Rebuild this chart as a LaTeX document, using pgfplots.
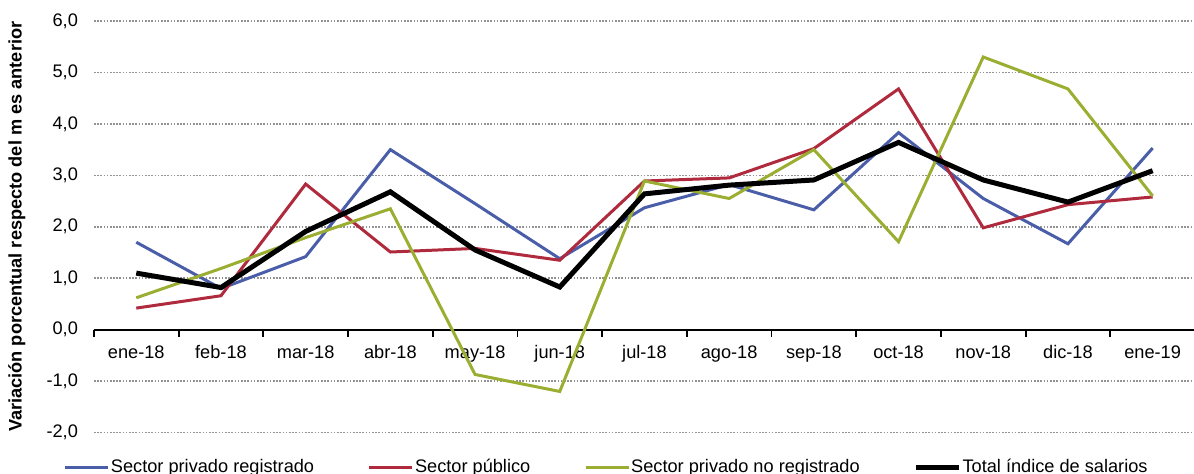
\documentclass[border=0pt]{standalone}
\usepackage{pgfplots}
\pgfplotsset{compat=1.18}
\usepackage{fontspec}
\setmainfont{Liberation Sans}
\definecolor{cblue}{HTML}{4A5DA8}
\definecolor{cred}{HTML}{AE2A3C}
\definecolor{cgreen}{HTML}{9BAE32}
\newcommand{\fs}{\fontsize{9.1}{11}\selectfont}
\begin{document}
\begin{tikzpicture}
\begin{axis}[
 scale only axis, width=551pt, height=206pt,
 xmin=-0.5, xmax=12.5, ymin=-2, ymax=6,
 axis x line=middle, axis y line=left,
 axis line style={-},
 y axis line style={draw=none},
 x axis line style={line width=0.9pt, black},
 hide obscured x ticks=false,
 hide obscured y ticks=false,
 xtick={-0.5,0.5,...,12.5},
 x tick label as interval,
 xticklabels={ene-18,feb-18,mar-18,abr-18,may-18,jun-18,jul-18,ago-18,sep-18,oct-18,nov-18,dic-18,ene-19},
 xtick align=outside,
 major tick length=3.5pt,
 xtick style={draw=black, line width=0.9pt},
 ytick={-2,-1,...,6},
 ytick align=inside,
 ytick style={draw=none},
 ymajorgrids,
 grid style={gray!85, line width=0.8pt, dash pattern=on 0.8pt off 0.8pt},
 tick label style={font=\fs},
 xticklabel style={yshift=-1pt},
 yticklabel style={xshift=-4.5pt, /pgf/number format/.cd, fixed, fixed zerofill, precision=1, use comma, assume math mode=true},
 every axis y label/.style={at={(axis description cs:-0.0699,0.5)}, rotate=90, anchor=center, font=\fs\bfseries},
 ylabel={Variación porcentual respecto del m es anterior},
 legend columns=4,
 legend cell align=left,
 legend style={draw=none, fill=none, inner sep=0pt, at={(axis description cs:-0.0277,-0.0840)}, anchor=west, nodes={inner xsep=0.6pt, inner ysep=1pt, font=\fs}, /tikz/every even column/.append style={column sep=26.3pt}},
 legend image code/.code={\draw[#1] (0pt,0pt) -- (21.5pt,0pt);},
]
\addplot[cblue, line width=1.5pt] coordinates {(0,1.70) (1,0.80) (2,1.42) (3,3.50) (4,2.45) (5,1.38) (6,2.37) (7,2.82) (8,2.33) (9,3.83) (10,2.55) (11,1.67) (12,3.53)};
\addlegendentry{Sector privado registrado}
\addplot[cred, line width=1.5pt] coordinates {(0,0.42) (1,0.66) (2,2.83) (3,1.51) (4,1.58) (5,1.35) (6,2.89) (7,2.95) (8,3.52) (9,4.68) (10,1.98) (11,2.43) (12,2.58)};
\addlegendentry{Sector público}
\addplot[cgreen, line width=1.5pt] coordinates {(0,0.62) (1,1.19) (2,1.79) (3,2.35) (4,-0.87) (5,-1.20) (6,2.89) (7,2.55) (8,3.50) (9,1.71) (10,5.30) (11,4.68) (12,2.60)};
\addlegendentry{Sector privado no registrado}
\addplot[black, line width=2.5pt] coordinates {(0,1.10) (1,0.82) (2,1.91) (3,2.68) (4,1.55) (5,0.83) (6,2.64) (7,2.81) (8,2.91) (9,3.64) (10,2.91) (11,2.48) (12,3.09)};
\addlegendentry{Total índice de salarios}
\end{axis}
\pgfresetboundingbox
\path[use as bounding box] (-47pt,-20.5pt) rectangle (550.5pt,216.5pt);
\end{tikzpicture}
\end{document}
